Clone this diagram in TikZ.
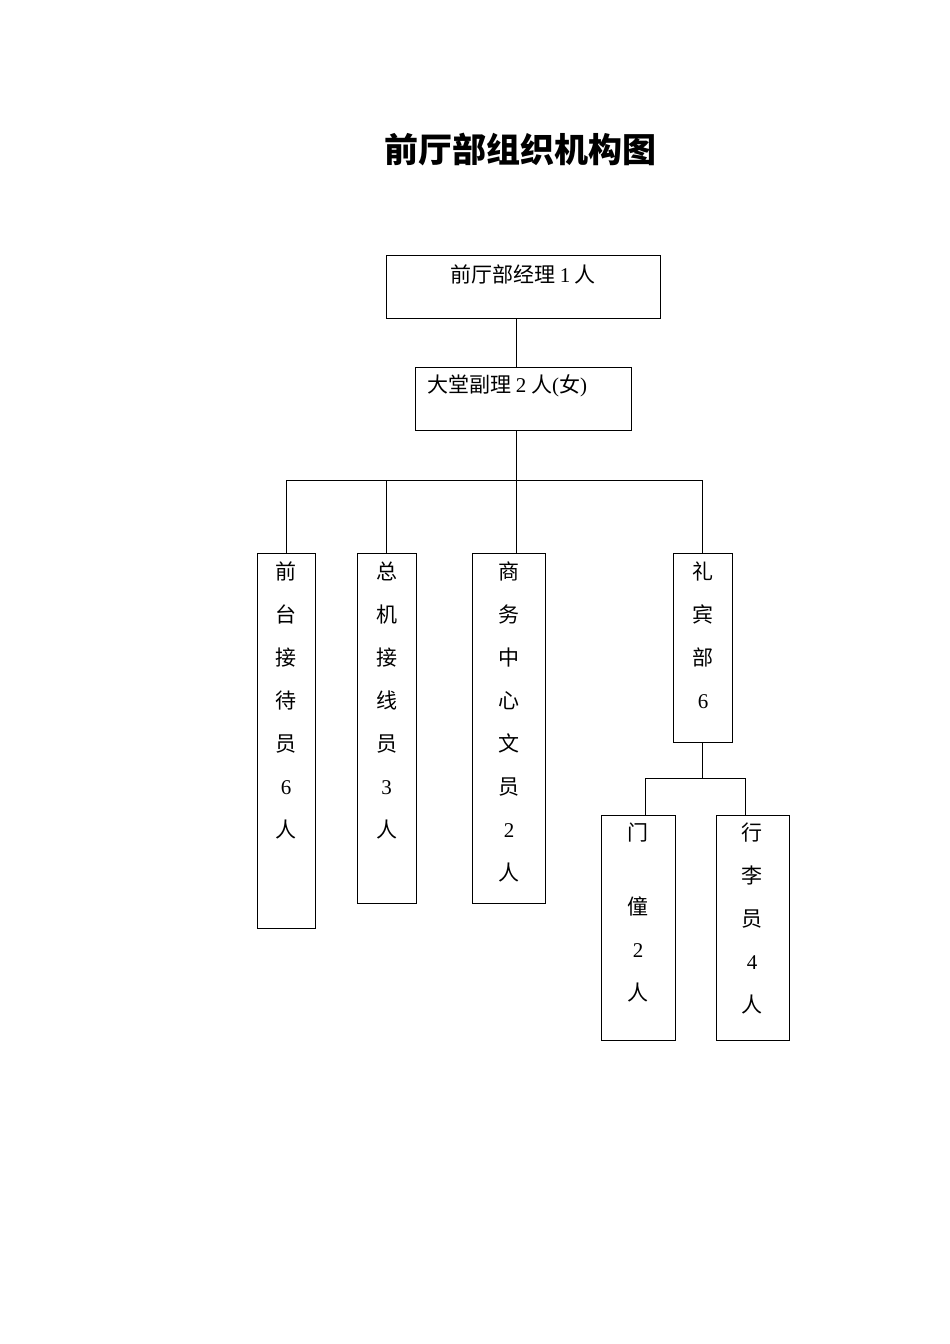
\documentclass[tikz,border=0pt]{standalone}
\usepackage{fontspec}
\setmainfont{Liberation Serif}
\newfontfamily\cjk{Noto Sans CJK SC}
\usetikzlibrary{positioning}

\tikzset{
  unit/.style={draw, line width=1pt, inner sep=0pt},
  col/.style={font=\cjk\fontsize{21}{43}\selectfont, align=center, anchor=north, inner sep=0pt},
  lbl/.style={font=\cjk\fontsize{21}{24}\selectfont, inner sep=0pt},
  link/.style={line width=1pt}
}

\begin{document}
\begin{tikzpicture}[x=1pt,y=-1pt]
  \useasboundingbox (0,0) rectangle (950,1344);
  \node[font=\cjk\fontsize{34}{40}\selectfont\bfseries] (title) at (520,150) {前厅部组织机构图};

  % upper boxes
  \node[unit, minimum width=274pt, minimum height=63pt] (mgr) at (523,286.5) {};
  \node[unit, minimum width=216pt, minimum height=63pt] (dep) at (523,398.5) {};
  \node[lbl] (mgrtxt) at (523,274) {前厅部经理 {\rmfamily 1} 人};
  \node[lbl, anchor=west] (deptxt) at (427,386) {大堂副理 {\rmfamily 2} 人{\rmfamily (}女{\rmfamily )}};

  % lower boxes
  \node[unit, minimum width=58pt, minimum height=375pt] (fd) at (286,740.5) {};
  \node[unit, minimum width=59pt, minimum height=350pt] (op) at (386.5,728) {};
  \node[unit, minimum width=73pt, minimum height=350pt] (bc) at (508.5,728) {};
  \node[unit, minimum width=59pt, minimum height=189pt] (cg) at (702.5,647.5) {};
  \node[unit, minimum width=74pt, minimum height=225pt] (dm) at (638,927.5) {};
  \node[unit, minimum width=73pt, minimum height=225pt] (bg) at (752.5,927.5) {};

  \node[col] (fdtxt) at (286,562) {前\\台\\接\\待\\员\\{\rmfamily 6}\\人};
  \node[col] (optxt) at (386.5,562) {总\\机\\接\\线\\员\\{\rmfamily 3}\\人};
  \node[col] (bctxt) at (509,562) {商\\务\\中\\心\\文\\员\\{\rmfamily 2}\\人};
  \node[col] (cgtxt) at (703,562) {礼\\宾\\部\\{\rmfamily 6}};
  \node[col] (dmtxt) at (638,823) {门\\[31pt]僮\\{\rmfamily 2}\\人};
  \node[col] (bgtxt) at (752,823) {行\\李\\员\\{\rmfamily 4}\\人};

  % connectors
  \coordinate (trunk) at (516,480);
  \coordinate (bus2) at (702,778);
  \coordinate (dmdrop) at (645,778);
  \coordinate (bgdrop) at (745,778);
  \draw[link] (mgr.south -| trunk) -- (dep.north -| trunk);
  \draw[link] (dep.south -| trunk) -- (trunk);
  \draw[link] (fd.north |- trunk) -- (cg.north |- trunk);
  \draw[link] (fd.north) -- (fd.north |- trunk);
  \draw[link] (op.north) -- (op.north |- trunk);
  \draw[link] (bc.north -| trunk) -- (trunk);
  \draw[link] (cg.north) -- (cg.north |- trunk);
  \draw[link] (cg.south) -- (cg.south |- bus2);
  \draw[link] (dmdrop) -- (bgdrop);
  \draw[link] (dmdrop) -- (dmdrop |- dm.north);
  \draw[link] (bgdrop) -- (bgdrop |- bg.north);
\end{tikzpicture}
\end{document}
